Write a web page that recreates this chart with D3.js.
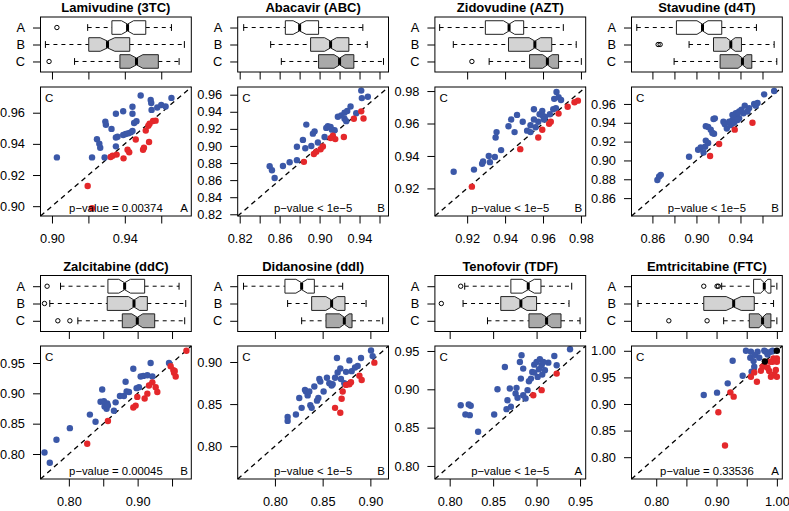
<!DOCTYPE html>
<html>
<head>
<meta charset="utf-8">
<title>resistance scores</title>
<style>
body { margin: 0; background: #fff; }
svg text { font-family: "Liberation Sans", Arial, sans-serif; fill: #000; }
.title { font-size: 13px; font-weight: bold; }
.axis text { font-size: 12.8px; }
.corner { font-size: 11.5px; }
.pval { font-size: 11.3px; }
</style>
</head>
<body>
<script src="https://cdn.jsdelivr.net/npm/d3@7"></script>
<script>
var drugs = ["Lamivudine (3TC)", "Abacavir (ABC)", "Zidovudine (AZT)", "Stavudine (d4T)",
             "Zalcitabine (ddC)", "Didanosine (ddI)", "Tenofovir (TDF)", "Emtricitabine (FTC)"];
var groups = ["A", "B", "C"];
var xGroup = ["A", "B", "B", "B", "B", "B", "A", "A"];
var limits = [[0.8937, 0.9765], [0.818, 0.969], [0.903, 0.9825], [0.841, 0.978],
              [0.7588, 0.978], [0.761, 0.919], [0.783, 0.9565], [0.759, 1.009]];
var tickVals = [
    [0.90, 0.92, 0.94, 0.96],
    [0.82, 0.84, 0.86, 0.88, 0.90, 0.92, 0.94, 0.96],
    [0.92, 0.94, 0.96, 0.98],
    [0.86, 0.88, 0.90, 0.92, 0.94, 0.96],
    [0.80, 0.85, 0.90, 0.95],
    [0.80, 0.85, 0.90],
    [0.80, 0.85, 0.90, 0.95],
    [0.80, 0.85, 0.90, 0.95, 1.00]
];
var xLabelVals = [
    [0.90, 0.94],
    [0.82, 0.86, 0.90, 0.94],
    [0.92, 0.94, 0.96, 0.98],
    [0.86, 0.90, 0.94],
    [0.80, 0.90],
    [0.80, 0.85, 0.90],
    [0.80, 0.85, 0.90, 0.95],
    [0.80, 0.90, 1.00]
];
var pTexts = ["p\u2212value = 0.00374", "p\u2212value < 1e\u22125", "p\u2212value < 1e\u22125", "p\u2212value < 1e\u22125",
              "p\u2212value = 0.00045", "p\u2212value < 1e\u22125", "p\u2212value < 1e\u22125", "p\u2212value = 0.33536"];

// box stats per group A, B, C: [low whisker, q1, median, q3, high whisker, notch half width, outliers]
var box3TC = [[0.9196, 0.9329, 0.9415, 0.9515, 0.9656, 0.0033, [0.9027]],
              [0.8964, 0.9202, 0.9305, 0.9427, 0.9727, 0.004, []],
              [0.9124, 0.9373, 0.9464, 0.9584, 0.9698, 0.0035, [0.8984]]];
var boxABC = [[0.824, 0.8657, 0.880, 0.899, 0.9433, 0.0065, []],
              [0.851, 0.891, 0.911, 0.9293, 0.9477, 0.006, []],
              [0.8617, 0.899, 0.920, 0.9343, 0.964, 0.0055, []]];
var boxAZT = [[0.9055, 0.9296, 0.9421, 0.9498, 0.9707, 0.003, []],
              [0.9127, 0.9418, 0.9557, 0.9646, 0.9775, 0.003, []],
              [0.9316, 0.9529, 0.9623, 0.9682, 0.9802, 0.0025, [0.9225]]];
var boxD4T = [[0.8458, 0.8818, 0.9055, 0.923, 0.9545, 0.005, []],
              [0.8933, 0.9155, 0.9312, 0.9409, 0.9706, 0.004, [0.8652, 0.867]],
              [0.8797, 0.9215, 0.9418, 0.9503, 0.973, 0.004, []]];
var boxDDC = [[0.7879, 0.8568, 0.8811, 0.9102, 0.9602, 0.0085, [0.7684]],
              [0.7723, 0.8558, 0.8947, 0.9141, 0.9699, 0.008, [0.7646]],
              [0.8131, 0.8777, 0.8995, 0.9248, 0.9684, 0.008, [0.784, 0.8015]]];
var boxDDI = [[0.7671, 0.8105, 0.828, 0.8413, 0.871, 0.006, []],
              [0.8133, 0.8385, 0.8594, 0.8734, 0.8955, 0.006, []],
              [0.828, 0.8535, 0.8727, 0.8808, 0.9129, 0.005, []]];
var boxTDF = [[0.8173, 0.8704, 0.8904, 0.905, 0.9404, 0.007, [0.8127]],
              [0.8154, 0.8588, 0.8819, 0.9, 0.9373, 0.007, [0.7904]],
              [0.8435, 0.8912, 0.9115, 0.9281, 0.95, 0.006, []]];
var boxFTC = [[0.9085, 0.9614, 0.9791, 0.9901, 1.0, 0.006, [0.8788, 0.9008, 0.903]],
              [0.7697, 0.8788, 0.9284, 0.9625, 0.9945, 0.0124, []],
              [0.9118, 0.9543, 0.9763, 0.9901, 1.0, 0.006, [0.8209, 0.8843]]];

// scatter points [x group value, C value]
var pts3TC = [[0.9027,0.9313],[0.9220,0.9313],[0.9247,0.9430],[0.9260,0.9401],[0.9265,0.9375],[0.9289,0.9313],
    [0.9293,0.9543],[0.9296,0.9523],[0.9327,0.9496],[0.9351,0.9593],[0.9351,0.9441],[0.9360,0.9446],[0.9351,0.9384],
    [0.9391,0.9609],[0.9391,0.9457],[0.9405,0.9463],[0.9420,0.9468],[0.9433,0.9474],[0.9442,0.9483],[0.9442,0.9638],
    [0.9442,0.9593],[0.9451,0.9534],[0.9464,0.9545],[0.9487,0.9710],[0.9542,0.9682],[0.9545,0.9662],[0.9547,0.9618],
    [0.9578,0.9633],[0.9600,0.9649],[0.9624,0.9640],[0.9656,0.9695],
    [0.9196,0.9130],[0.9220,0.8987],[0.9322,0.9316],[0.9333,0.9324],[0.9355,0.9331],[0.9393,0.9307],[0.9415,0.9362],
    [0.9424,0.9346],[0.9460,0.9428],[0.9500,0.9362],[0.9505,0.9375],[0.9533,0.9412],[0.9515,0.9485],[0.9529,0.9516],
    [0.9536,0.9529],[0.9555,0.9547],[0.9569,0.9549]];
var ptsABC = [[0.8500,0.8763],[0.8523,0.8715],[0.8550,0.8625],[0.8633,0.8766],[0.8700,0.8810],[0.8773,0.8834],
    [0.8773,0.8990],[0.8833,0.9071],[0.8867,0.9250],[0.8857,0.8973],[0.8917,0.9000],[0.8933,0.9144],[0.8950,0.9171],
    [0.8983,0.9040],[0.9050,0.9104],[0.9067,0.9211],[0.9083,0.9231],[0.9110,0.9223],[0.9123,0.9191],[0.9150,0.9183],
    [0.9183,0.9342],[0.9217,0.9358],[0.9250,0.9318],[0.9267,0.9290],[0.9250,0.9390],[0.9277,0.9410],[0.9310,0.9461],
    [0.9367,0.9382],[0.9417,0.9648],[0.9423,0.9560],[0.9483,0.9576],
    [0.8843,0.8814],[0.8943,0.8906],[0.8967,0.8933],[0.9010,0.8961],[0.9033,0.8993],[0.9110,0.9092],[0.9133,0.9120],
    [0.9157,0.9080],[0.9243,0.9104],[0.9343,0.9318],[0.9417,0.9405],[0.9440,0.9322]];
var ptsAZT = [[0.9129,0.9303],[0.9236,0.9316],[0.9279,0.9352],[0.9284,0.9366],[0.9314,0.9400],[0.9320,0.9362],
    [0.9346,0.9394],[0.9379,0.9436],[0.9350,0.9514],[0.9355,0.9547],[0.9418,0.9583],[0.9432,0.9625],[0.9463,0.9653],
    [0.9450,0.9547],[0.9493,0.9611],[0.9516,0.9556],[0.9534,0.9547],[0.9534,0.9589],[0.9552,0.9625],[0.9552,0.9688],
    [0.9561,0.9577],[0.9575,0.9611],[0.9582,0.9657],[0.9596,0.9678],[0.9600,0.9646],[0.9611,0.9640],[0.9605,0.9625],
    [0.9636,0.9657],[0.9654,0.9688],[0.9659,0.9752],[0.9671,0.9794],[0.9682,0.9762],[0.9695,0.9745],[0.9668,0.9695],
    [0.9225,0.9211],[0.9480,0.9442],[0.9575,0.9514],[0.9596,0.9562],[0.9632,0.9598],[0.9641,0.9611],[0.9682,0.9661],
    [0.9730,0.9703],[0.9766,0.9731],[0.9784,0.9741]];
var ptsD4T = [[0.8645,0.8793],[0.8661,0.8829],[0.8676,0.8847],[0.8933,0.9040],[0.9015,0.9113],[0.9039,0.9138],
    [0.9064,0.9084],[0.9079,0.9145],[0.9085,0.9364],[0.9106,0.9356],[0.9130,0.9327],[0.9085,0.9211],[0.9106,0.9185],
    [0.9160,0.9284],[0.9167,0.9447],[0.9245,0.9411],[0.9258,0.9385],[0.9276,0.9338],[0.9312,0.9375],[0.9327,0.9429],
    [0.9342,0.9465],[0.9358,0.9502],[0.9373,0.9484],[0.9388,0.9447],[0.9409,0.9538],[0.9427,0.9502],[0.9439,0.9582],
    [0.9479,0.9556],[0.9524,0.9600],[0.9539,0.9582],[0.9555,0.9611],[0.9615,0.9702],[0.9706,0.9738],[0.9297,0.9411],
    [0.9342,0.9400],[0.9373,0.9429],[0.9327,0.9484],[0.9388,0.9520],[0.9464,0.9520],[0.9155,0.9440],[0.9145,0.9291],
    [0.9124,0.9047],[0.9206,0.9175],[0.9348,0.9327],[0.9509,0.9400]];
var ptsDDC = [[0.7646,0.8025],[0.7723,0.7855],[0.7820,0.8234],[0.8015,0.8426],[0.8306,0.8649],[0.8388,0.8532],
    [0.8485,0.9064],[0.8461,0.8862],[0.8510,0.8872],[0.8519,0.8782],[0.8549,0.8745],[0.8558,0.8835],[0.8568,0.8798],
    [0.8655,0.8713],[0.8680,0.8851],[0.8743,0.8957],[0.8801,0.8957],[0.8825,0.9191],[0.8840,0.9032],[0.8874,0.9021],
    [0.8937,0.9404],[0.8985,0.9085],[0.9019,0.9101],[0.9044,0.9277],[0.9083,0.9287],[0.9141,0.9298],[0.9189,0.9500],
    [0.9214,0.9277],[0.9456,0.9500],
    [0.8267,0.8170],[0.8568,0.8543],[0.8937,0.8766],[0.8971,0.8798],[0.8995,0.8941],[0.9102,0.8915],[0.9141,0.8995],
    [0.9214,0.9181],[0.9262,0.9101],[0.9286,0.9021],[0.9165,0.9128],[0.9480,0.9447],[0.9519,0.9383],[0.9529,0.9340],
    [0.9553,0.9277],[0.9539,0.9367],[0.9709,0.9702]];
var ptsDDI = [[0.8133,0.8346],[0.8133,0.8300],[0.8220,0.8377],[0.8255,0.8572],[0.8280,0.8455],[0.8315,0.8669],
    [0.8325,0.8650],[0.8343,0.8603],[0.8360,0.8650],[0.8371,0.8486],[0.8385,0.8455],[0.8413,0.8708],[0.8441,0.8541],
    [0.8455,0.8572],[0.8465,0.8798],[0.8476,0.8767],[0.8510,0.8650],[0.8545,0.8813],[0.8570,0.8747],[0.8594,0.8720],
    [0.8605,0.8735],[0.8630,0.8813],[0.8650,0.9047],[0.8657,0.8875],[0.8685,0.8922],[0.8727,0.8747],[0.8745,0.8883],
    [0.8780,0.9019],[0.8804,0.8891],[0.8839,0.8934],[0.8867,0.8953],[0.8902,0.9047],[0.9007,0.9136],[0.9024,0.9070],
    [0.8692,0.8798],
    [0.8630,0.8455],[0.8685,0.8397],[0.8699,0.8564],[0.8710,0.8650],[0.8745,0.8728],[0.8780,0.8735],[0.8797,0.8759],
    [0.8885,0.8837],[0.8909,0.8786],[0.9042,0.8992]];
var ptsTDF = [[0.8127,0.8793],[0.8219,0.8802],[0.8242,0.8785],[0.8181,0.8672],[0.8231,0.8663],[0.8327,0.8447],
    [0.8512,0.8672],[0.8550,0.9000],[0.8635,0.9292],[0.8654,0.8741],[0.8665,0.8858],[0.8704,0.8772],[0.8692,0.9010],
    [0.8758,0.8945],[0.8769,0.9019],[0.8781,0.8889],[0.8827,0.9444],[0.8808,0.9357],[0.8846,0.9270],[0.8819,0.9140],
    [0.8846,0.8923],[0.8873,0.8880],[0.8896,0.8989],[0.8912,0.9106],[0.8935,0.9140],[0.8950,0.9227],[0.8973,0.9218],
    [0.8973,0.9322],[0.9000,0.9357],[0.9012,0.9162],[0.9027,0.9262],[0.9038,0.9392],[0.9058,0.9314],[0.9065,0.9192],
    [0.9077,0.9357],[0.9096,0.9249],[0.9135,0.9348],[0.9204,0.9435],[0.9231,0.9314],[0.9385,0.9522],
    [0.8962,0.8923],[0.9058,0.8989],[0.9231,0.9205]];
var ptsFTC = [[0.8788,0.9169],[0.9008,0.9213],[0.9185,0.9388],[0.9267,0.9813],[0.9433,0.9531],[0.9488,1.0000],
    [0.9559,0.9869],[0.9570,0.9981],[0.9614,0.9806],[0.9581,0.9606],[0.9636,0.9919],[0.9680,0.9981],[0.9708,0.9869],
    [0.9791,1.0000],[0.9818,0.9981],[0.9846,0.9931],[0.9901,0.9981],[0.9928,1.0000],[0.9625,0.9700],
    [0.9140,0.8220],[0.9030,0.8844],[0.9229,0.9219],[0.9284,0.9138],[0.9570,0.9513],[0.9625,0.9594],[0.9669,0.9419],
    [0.9736,0.9625],[0.9763,0.9700],[0.9791,0.9719],[0.9873,0.9619],[0.9901,0.9513],[0.9956,0.9556],[0.9983,0.9638],
    [1.0,0.9513],[1.0,0.9856],[1.0,0.9794],[0.9928,0.9794],[0.9846,0.9681],[0.9945,0.9856],[0.9890,0.9794],
    [1.0,1.0],[0.98,0.98]];

var boxes = [box3TC, boxABC, boxAZT, boxD4T, boxDDC, boxDDI, boxTDF, boxFTC];
var points = [pts3TC, ptsABC, ptsAZT, ptsD4T, ptsDDC, ptsDDI, ptsTDF, ptsFTC];

var boxFill = ["#ffffff", "#d3d3d3", "#a9a9a9"];
var above = "#3b58a8", below = "#e4282b", same = "#000000";

var colLeft = [40.5, 237.7, 434.9, 631.5],
    plotW = 150.8,
    rowBox = [[17, 72], [275.5, 331.5]],
    rowSc = [[87, 216], [346, 479]];

var fmt = d3.format(".2f");

var svg = d3.select("body").append("svg")
    .attr("width", 789)
    .attr("height", 511);

function cleanAxis(sel) {
    sel.select(".domain").remove();
    sel.attr("font-size", null).attr("font-family", null);
    sel.selectAll("line").attr("stroke", "#000");
}

drugs.forEach(function(name, i) {
    var col = i % 4, row = Math.floor(i / 4);
    var L = colLeft[col], R = L + plotW;
    var bt = rowBox[row][0], bb = rowBox[row][1];
    var st = rowSc[row][0], sb = rowSc[row][1];
    var lim = limits[i];

    var x = d3.scaleLinear().domain(lim).range([L, R]);
    var yb = d3.scaleLinear().domain([0.38, 3.62]).range([bb, bt]);
    var y = d3.scaleLinear().domain(lim).range([sb, st]);
    var g = svg.append("g");

    g.append("text")
        .attr("class", "title")
        .attr("x", (L + R) / 2)
        .attr("y", bt - 5)
        .attr("text-anchor", "middle")
        .text(name);

    // boxplots, A on top
    var half = (yb(0) - yb(0.8)) / 2;
    boxes[i].forEach(function(s, k) {
        var c = yb(3 - k);
        var bg = g.append("g");
        bg.append("line")
            .attr("x1", x(s[0])).attr("x2", x(s[1]))
            .attr("y1", c).attr("y2", c)
            .attr("stroke", "#000").attr("stroke-dasharray", "4,4");
        bg.append("line")
            .attr("x1", x(s[3])).attr("x2", x(s[4]))
            .attr("y1", c).attr("y2", c)
            .attr("stroke", "#000").attr("stroke-dasharray", "4,4");
        [s[0], s[4]].forEach(function(v) {
            bg.append("line")
                .attr("x1", x(v)).attr("x2", x(v))
                .attr("y1", c - half / 2).attr("y2", c + half / 2)
                .attr("stroke", "#000");
        });
        var nlo = s[2] - s[5], nhi = s[2] + s[5];
        var poly = [[s[1], -1], [nlo, -1], [s[2], -0.5], [nhi, -1], [s[3], -1],
                    [s[3], 1], [nhi, 1], [s[2], 0.5], [nlo, 1], [s[1], 1]];
        bg.append("polygon")
            .attr("points", poly.map(function(p) { return x(p[0]) + "," + (c + p[1] * half); }).join(" "))
            .attr("fill", boxFill[k])
            .attr("stroke", "#222");
        bg.append("line")
            .attr("x1", x(s[2])).attr("x2", x(s[2]))
            .attr("y1", c - half / 2).attr("y2", c + half / 2)
            .attr("stroke", "#000").attr("stroke-width", 3);
        bg.selectAll("circle")
            .data(s[6])
            .enter().append("circle")
            .attr("cx", function(d) { return x(d); })
            .attr("cy", c)
            .attr("r", 2.2)
            .attr("fill", "none")
            .attr("stroke", "#000");
    });

    g.append("rect")
        .attr("x", L).attr("y", bt)
        .attr("width", plotW).attr("height", bb - bt)
        .attr("fill", "none").attr("stroke", "#000");

    g.append("g")
        .attr("class", "axis")
        .attr("transform", "translate(" + L + ",0)")
        .call(d3.axisLeft(yb).tickValues([3, 2, 1])
            .tickFormat(function(d) { return groups[3 - d]; })
            .tickSize(7.5).tickPadding(8))
        .call(cleanAxis);

    g.append("g")
        .attr("class", "axis")
        .attr("transform", "translate(0," + bb + ")")
        .call(d3.axisBottom(x).tickValues(tickVals[i]).tickFormat("").tickSize(7.5))
        .call(cleanAxis);

    // scatter
    g.append("line")
        .attr("x1", x(lim[0])).attr("y1", y(lim[0]))
        .attr("x2", x(lim[1])).attr("y2", y(lim[1]))
        .attr("stroke", "#000").attr("stroke-width", 1.3)
        .attr("stroke-dasharray", "5,4");

    var pts = points[i].map(function(p) {
        var t = p[1] > p[0] ? 0 : (p[1] < p[0] ? 1 : 2);
        return { x: p[0], y: p[1], t: t };
    }).sort(function(a, b) { return a.t - b.t; });

    g.selectAll(".pt")
        .data(pts)
        .enter().append("circle")
        .attr("class", "pt")
        .attr("cx", function(d) { return x(d.x); })
        .attr("cy", function(d) { return y(d.y); })
        .attr("r", 3.2)
        .attr("fill", function(d) { return [above, below, same][d.t]; });

    g.append("rect")
        .attr("x", L).attr("y", st)
        .attr("width", plotW).attr("height", sb - st)
        .attr("fill", "none").attr("stroke", "#000");

    var labs = xLabelVals[i].map(fmt);
    g.append("g")
        .attr("class", "axis")
        .attr("transform", "translate(0," + sb + ")")
        .call(d3.axisBottom(x).tickValues(tickVals[i])
            .tickFormat(function(d) { return labs.indexOf(fmt(d)) >= 0 ? fmt(d) : ""; })
            .tickSize(7.5).tickPadding(10))
        .call(cleanAxis);

    g.append("g")
        .attr("class", "axis")
        .attr("transform", "translate(" + L + ",0)")
        .call(d3.axisLeft(y).tickValues(tickVals[i]).tickFormat(fmt).tickSize(7.5).tickPadding(8))
        .call(cleanAxis);

    g.append("text")
        .attr("class", "corner")
        .attr("x", L + 4.5).attr("y", st + 14.5)
        .text("C");
    g.append("text")
        .attr("class", "corner")
        .attr("x", R - 3.5).attr("y", sb - 4)
        .attr("text-anchor", "end")
        .text(xGroup[i]);
    g.append("text")
        .attr("class", "pval")
        .attr("x", (L + R) / 2).attr("y", sb - 4)
        .attr("text-anchor", "middle")
        .text(pTexts[i]);
});
</script>
</body>
</html>
